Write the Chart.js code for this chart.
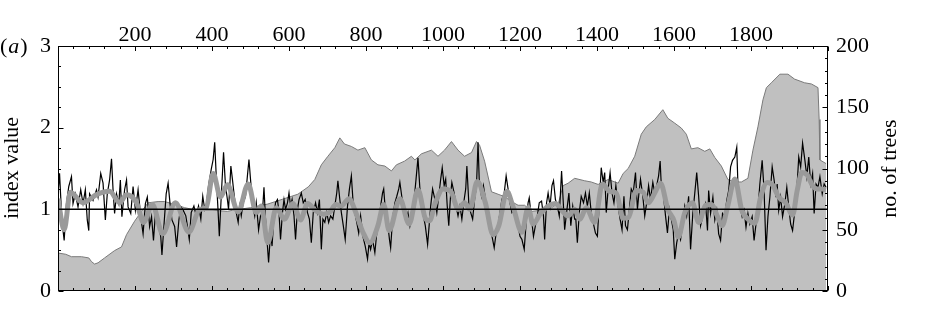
<!DOCTYPE html>
<html><head><meta charset="utf-8">
<script src="https://cdn.jsdelivr.net/npm/chart.js@4.4.0/dist/chart.umd.min.js"></script>
<style>html,body{margin:0;padding:0;background:#fff;}canvas{display:block;}</style>
</head><body>
<canvas id="c" width="931" height="320"></canvas>
<script>
// ---- data ----
const xTickLabels = [200, 400, 600, 800, 1000, 1200, 1400, 1600, 1800];
const leftTicks = [0, 1, 2, 3];
const rightTicks = [0, 50, 100, 150, 200];
const referenceLevel = 1;

const treeYears = [0,20,35,61,80,87,95,104,121,147,165,178,199,217,234,260,277,300,329,360,400,440,454,500,545,584,623,650,667,684,701,719,732,744,762,779,797,814,831,849,866,879,900,918,927,944,970,987,1004,1022,1039,1056,1074,1087,1095,1108,1126,1143,1160,1178,1195,1212,1230,1256,1282,1300,1312,1325,1342,1368,1385,1403,1429,1455,1468,1481,1498,1515,1528,1550,1571,1584,1602,1619,1632,1645,1662,1680,1693,1706,1723,1740,1758,1775,1792,1805,1818,1831,1840,1853,1875,1896,1913,1939,1957,1974,1977,1979,1995];
const treeCounts = [31,30,28,28,27,24,22,23,27,33,36,46,57,65,72,73,73,71,68,66,66,65,66,68,71,75,79,85,91,103,110,117,125,120,118,115,117,107,103,102,98,103,106,110,107,112,115,110,115,122,115,110,113,122,119,106,81,79,77,73,70,70,65,66,68,72,86,88,92,90,89,87,91,88,96,100,110,128,134,140,148,141,137,133,128,116,117,114,116,109,102,91,89,89,92,115,134,156,166,170,177,177,173,170,169,166,140,107,104];

const indexYears = [0,4,10,16,22,28,35,39,45,52,59,65,71,76,80,82,91,100,104,111,117,123,128,134,139,143,147,152,158,162,166,173,178,182,189,195,201,208,215,221,227,232,238,243,248,253,260,267,270,275,281,286,291,296,303,308,314,319,325,
332,336,341,346,353,359,365,371,376,381,386,391,398,403,407,411,416,419,424,430,435,440,443,449,453,457,463,468,472,476,481,487,492,496,500,505,511,515,521,526,531,535,539,544,547,552,556,561,565,570,574,578,583,587,591,596,600,604,608,613,617,622,626,632,637,642,648,653,658,663,
669,674,679,684,688,693,698,703,708,714,719,724,727,732,736,741,746,752,757,762,766,771,776,781,786,792,798,804,808,812,817,823,828,833,838,843,846,850,856,861,864,869,875,880,885,888,894,899,904,909,914,920,925,930,935,940,944,949,954,960,964,968,973,979,984,989,994,998,1003,
1007,1011,1015,1020,1023,1029,1034,1039,1044,1049,1055,1059,1062,1067,1072,1077,1082,1087,1091,1094,1100,1105,1108,1114,1119,1124,1129,1133,1138,1143,1148,1153,1159,1164,1169,1174,1179,1185,1190,1195,1200,1205,1211,1216,1221,1224,1230,1235,1240,1245,1250,1256,1261,1264,1269,1273,1278,1283,1287,1292,1297,1302,1308,1312,1316,1321,1327,1332,1337,1342,
1345,1349,1354,1359,1365,1370,1375,1380,1385,1390,1396,1401,1406,1411,1416,1420,1424,1429,1434,1439,1444,1449,1455,1460,1465,1470,1474,1479,1484,1489,1494,1500,1505,1509,1513,1519,1524,1529,1534,1539,1545,1550,1555,1560,1564,1567,1572,1578,1583,1588,1593,1598,1602,1607,1612,1617,1623,1628,1633,1638,1643,1649,1654,1659,1664,1669,1675,1680,
1682,1687,1690,1695,1701,1706,1711,1716,1721,1726,1732,1737,1742,1747,1752,1758,1763,1766,1772,1777,1782,1787,1792,1797,1803,1808,1813,1818,1823,1829,1834,1839,1844,1849,1855,1860,1865,1868,1872,1877,1882,1888,1893,1898,1903,1908,1914,1919,1924,1929,1934,1940,1945,1950,1955,1960,1964,1969,1974,1979,1985,1990,1995];
const indexValues = [1.19,1.44,0.87,0.62,1.07,1.28,1.40,1.07,1.19,1.03,1.24,1.07,1.24,0.87,0.74,1.19,1.11,1.24,1.15,1.44,1.32,0.87,1.19,1.36,1.62,1.24,0.95,1.19,1.07,1.36,0.91,1.24,1.36,1.03,0.95,1.28,0.99,1.24,0.91,0.70,1.07,1.15,0.79,0.91,0.62,0.95,0.87,0.66,0.44,0.79,1.19,1.32,1.07,0.87,0.79,0.54,0.87,1.03,0.99,
0.92,0.80,0.63,0.96,1.04,0.92,1.04,0.88,1.16,1.00,1.08,1.29,1.49,1.61,1.82,1.41,0.96,0.67,1.16,1.70,1.29,1.12,1.00,1.53,1.37,1.20,0.96,0.84,1.04,0.92,1.08,1.16,1.41,1.61,1.37,1.08,0.92,1.08,0.75,0.92,0.96,1.27,0.88,0.55,0.35,0.71,0.55,0.92,1.08,1.12,0.96,0.63,0.96,1.12,1.00,1.08,1.20,1.04,1.12,0.92,0.63,1.00,1.12,1.20,1.08,1.12,0.96,0.88,0.59,0.96,
1.08,0.96,1.12,0.51,0.88,0.84,0.96,0.84,0.92,0.88,1.04,1.20,1.35,1.12,0.96,0.80,0.63,1.04,1.25,1.41,1.12,0.96,0.84,0.71,0.92,0.67,0.55,0.39,0.59,0.51,0.63,0.47,0.71,0.80,1.04,1.20,1.25,1.00,0.84,0.63,0.53,0.88,1.08,1.16,1.25,1.33,1.12,0.96,0.88,0.96,0.80,0.96,1.12,1.37,1.63,1.25,1.08,0.92,0.80,0.57,0.80,1.04,1.25,1.12,0.96,1.16,1.37,1.51,1.29,
1.37,1.04,0.80,1.20,1.33,1.20,1.04,0.92,1.04,0.88,1.12,1.25,1.53,1.08,0.96,0.88,1.12,1.29,1.82,1.37,1.16,1.29,1.20,0.96,0.88,0.75,0.63,0.53,0.71,0.80,0.96,1.12,1.20,1.41,1.25,1.08,0.96,1.00,0.88,0.80,0.67,0.63,0.51,0.84,1.08,1.14,0.88,0.67,0.80,0.92,1.08,1.10,0.92,0.63,1.08,1.20,1.04,1.29,1.35,1.12,1.04,0.92,1.47,1.12,0.75,0.96,1.20,0.80,1.04,0.88,
0.88,0.59,0.96,1.16,1.08,1.20,1.04,1.20,0.96,0.84,0.71,0.67,1.08,1.51,1.33,1.45,0.96,1.25,1.45,1.20,1.08,1.29,1.04,0.88,0.75,1.16,0.80,0.75,1.00,1.25,1.20,1.45,1.00,1.20,1.37,1.16,0.92,1.08,1.29,1.12,1.33,1.20,1.29,1.41,1.59,1.29,1.20,0.92,0.71,1.00,0.88,0.75,0.39,0.59,0.71,0.63,0.84,1.04,0.92,1.16,0.51,0.96,1.20,1.45,1.16,0.80,0.92,1.04,
1.07,0.74,1.23,0.95,1.15,0.87,0.99,0.70,0.62,0.95,0.91,1.11,1.23,1.52,1.60,1.64,1.76,1.31,1.03,0.91,0.99,0.78,0.95,0.82,0.91,0.62,0.82,0.99,1.31,1.60,1.23,0.50,0.91,1.15,1.52,1.36,1.15,1.31,0.99,1.15,0.91,1.07,1.27,1.03,0.82,0.74,0.99,1.23,1.64,1.52,1.81,1.60,1.40,1.64,1.31,1.44,0.95,1.31,1.27,1.40,1.19,1.31,1.27];

const smoothYears = [0,16,32,65,100,134,160,178,204,222,245,272,305,340,368,385,403,422,440,468,494,515,528,545,567,588,610,630,648,670,690,705,722,735,756,772,792,810,831,846,860,888,912,935,955,965,980,1000,1020,1040,1056,1070,1089,1110,1130,1145,1166,1182,1205,1221,1234,1252,1273,1292,1310,1325,1342,1356,1372,1394,1414,1433,1450,1468,1482,1502,1520,1533,1550,1565,1584,1600,1611,1628,1648,1664,1682,1697,1714,1725,1740,1758,1776,1795,1810,1825,1842,1856,1872,1890,1908,1920,1932,1946,1960,1972,1985,1995];
const smoothValues = [1.13,0.75,1.21,1.08,1.18,1.22,1.08,1.18,1.08,0.84,1.06,0.70,1.08,0.72,1.00,1.02,1.44,1.15,1.30,0.97,1.31,0.96,1.04,0.59,1.02,0.88,1.07,0.87,1.07,0.98,0.94,0.96,1.06,1.04,1.13,0.98,0.72,0.59,0.80,1.06,0.74,1.13,0.82,1.24,0.88,0.86,1.08,1.25,1.22,1.00,1.08,1.00,1.34,1.08,0.69,0.80,1.22,1.03,0.72,1.02,0.82,0.94,1.04,1.07,0.98,0.92,1.00,0.88,1.02,0.84,1.31,1.22,1.20,0.89,0.90,1.23,1.21,1.08,1.20,1.32,1.00,0.86,0.66,0.96,1.08,0.84,1.05,1.06,0.90,0.80,1.05,1.37,0.99,0.87,0.83,1.15,1.33,1.30,1.15,1.08,0.93,1.23,1.45,1.42,1.29,1.25,1.25,1.24];

// ---- helpers ----
const pts = (xs, ys) => xs.map((x, i) => ({ x: x, y: ys[i] }));
const FONT = '"Liberation Serif", "Times New Roman", serif';

const framePlugin = {
  id: 'frame',
  afterDatasetsDraw(chart) {
    const { ctx, chartArea: a, scales } = chart;
    const L = Math.round(a.left) + 0.5, R = Math.round(a.right) - 0.5;
    const T = Math.round(a.top) + 0.5, B = Math.round(a.bottom) - 0.5;
    ctx.save();
    ctx.strokeStyle = '#000';
    ctx.lineWidth = 1;
    ctx.beginPath();
    const seg = (x1, y1, x2, y2) => { ctx.moveTo(x1, y1); ctx.lineTo(x2, y2); };
    for (let v = 0; v <= 2000; v += 40) {
      const px = Math.round(scales.x.getPixelForValue(v)) + 0.5;
      const len = v % 200 === 0 ? 4.5 : 2.5;
      seg(px, T, px, T + len); seg(px, B, px, B - len);
    }
    for (let v = 0; v <= 3.0001; v += 0.25) {
      const py = Math.round(scales.y.getPixelForValue(v)) + 0.5;
      const len = Math.abs(v - Math.round(v)) < 1e-6 ? 5 : 2.5;
      seg(L, py, L + len, py);
    }
    for (let v = 0; v <= 200; v += 10) {
      const py = Math.round(scales.y2.getPixelForValue(v)) + 0.5;
      const len = v % 50 === 0 ? 5 : 2.5;
      seg(R, py, R - len, py);
    }
    ctx.stroke();
    ctx.strokeRect(L, T, R - L, B - T);
    ctx.restore();
  }
};

const textPlugin = {
  id: 'texts',
  afterDraw(chart) {
    const ctx = chart.ctx;
    ctx.save();
    ctx.fillStyle = '#000';
    ctx.textBaseline = 'alphabetic';
    ctx.textAlign = 'left';
    ctx.font = '22px ' + FONT;
    let x = 0; const y = 52.5;
    ctx.fillText('(', x, y); x += ctx.measureText('(').width + 1;
    ctx.font = 'italic 22px ' + FONT;
    ctx.fillText('a', x, y); x += ctx.measureText('a').width + 1;
    ctx.font = '22px ' + FONT;
    ctx.fillText(')', x, y);
    ctx.textAlign = 'center';
    ctx.save(); ctx.translate(18, 168); ctx.rotate(-Math.PI / 2); ctx.fillText('index value', 0, 0); ctx.restore();
    ctx.save(); ctx.translate(896, 168.5); ctx.rotate(-Math.PI / 2); ctx.fillText('no. of trees', 0, 0); ctx.restore();
    ctx.restore();
  }
};

const tickFont = { family: FONT, size: 22 };
const hidden = { display: false, drawTicks: false, drawOnChartArea: false };

new Chart(document.getElementById('c'), {
  type: 'line',
  data: {
    datasets: [
      { data: pts([0, 2000], [referenceLevel, referenceLevel]), borderColor: '#000', borderWidth: 1.5, pointRadius: 0, order: 0, yAxisID: 'y' },
      { data: pts(smoothYears, smoothValues), borderColor: '#9a9a9a', borderWidth: 5, pointRadius: 0, cubicInterpolationMode: 'monotone', order: 1, yAxisID: 'y' },
      { data: pts(indexYears, indexValues), borderColor: '#000', borderWidth: 1.2, pointRadius: 0, tension: 0, order: 2, yAxisID: 'y' },
      { data: pts(treeYears, treeCounts), borderColor: '#7a7a7a', borderWidth: 1, backgroundColor: '#c0c0c0', fill: 'origin', pointRadius: 0, tension: 0, order: 3, yAxisID: 'y2' }
    ]
  },
  options: {
    responsive: false,
    animation: false,
    devicePixelRatio: 1,
    events: [],
    layout: { padding: { top: 0, left: 0, right: 0, bottom: 29 } },
    plugins: { legend: { display: false }, tooltip: { enabled: false } },
    scales: {
      x: {
        type: 'linear', position: 'top', min: 0, max: 2000,
        afterBuildTicks: s => { s.ticks = xTickLabels.map(v => ({ value: v })); },
        afterFit: s => { s.height = 46; },
        grid: hidden, border: { display: false },
        ticks: { font: tickFont, color: '#000', padding: -2, maxRotation: 0, autoSkip: false, callback: v => String(v) }
      },
      y: {
        position: 'left', min: 0, max: 3,
        afterBuildTicks: s => { s.ticks = leftTicks.map(v => ({ value: v })); },
        afterFit: s => { s.width = 58; },
        grid: hidden, border: { display: false },
        ticks: { font: tickFont, color: '#000', padding: 7, callback: v => String(v) }
      },
      y2: {
        position: 'right', min: 0, max: 200,
        afterBuildTicks: s => { s.ticks = rightTicks.map(v => ({ value: v })); },
        afterFit: s => { s.width = 103; },
        grid: hidden, border: { display: false },
        ticks: { font: tickFont, color: '#000', padding: 8, callback: v => String(v) }
      }
    }
  },
  plugins: [framePlugin, textPlugin]
});
</script>
</body></html>
